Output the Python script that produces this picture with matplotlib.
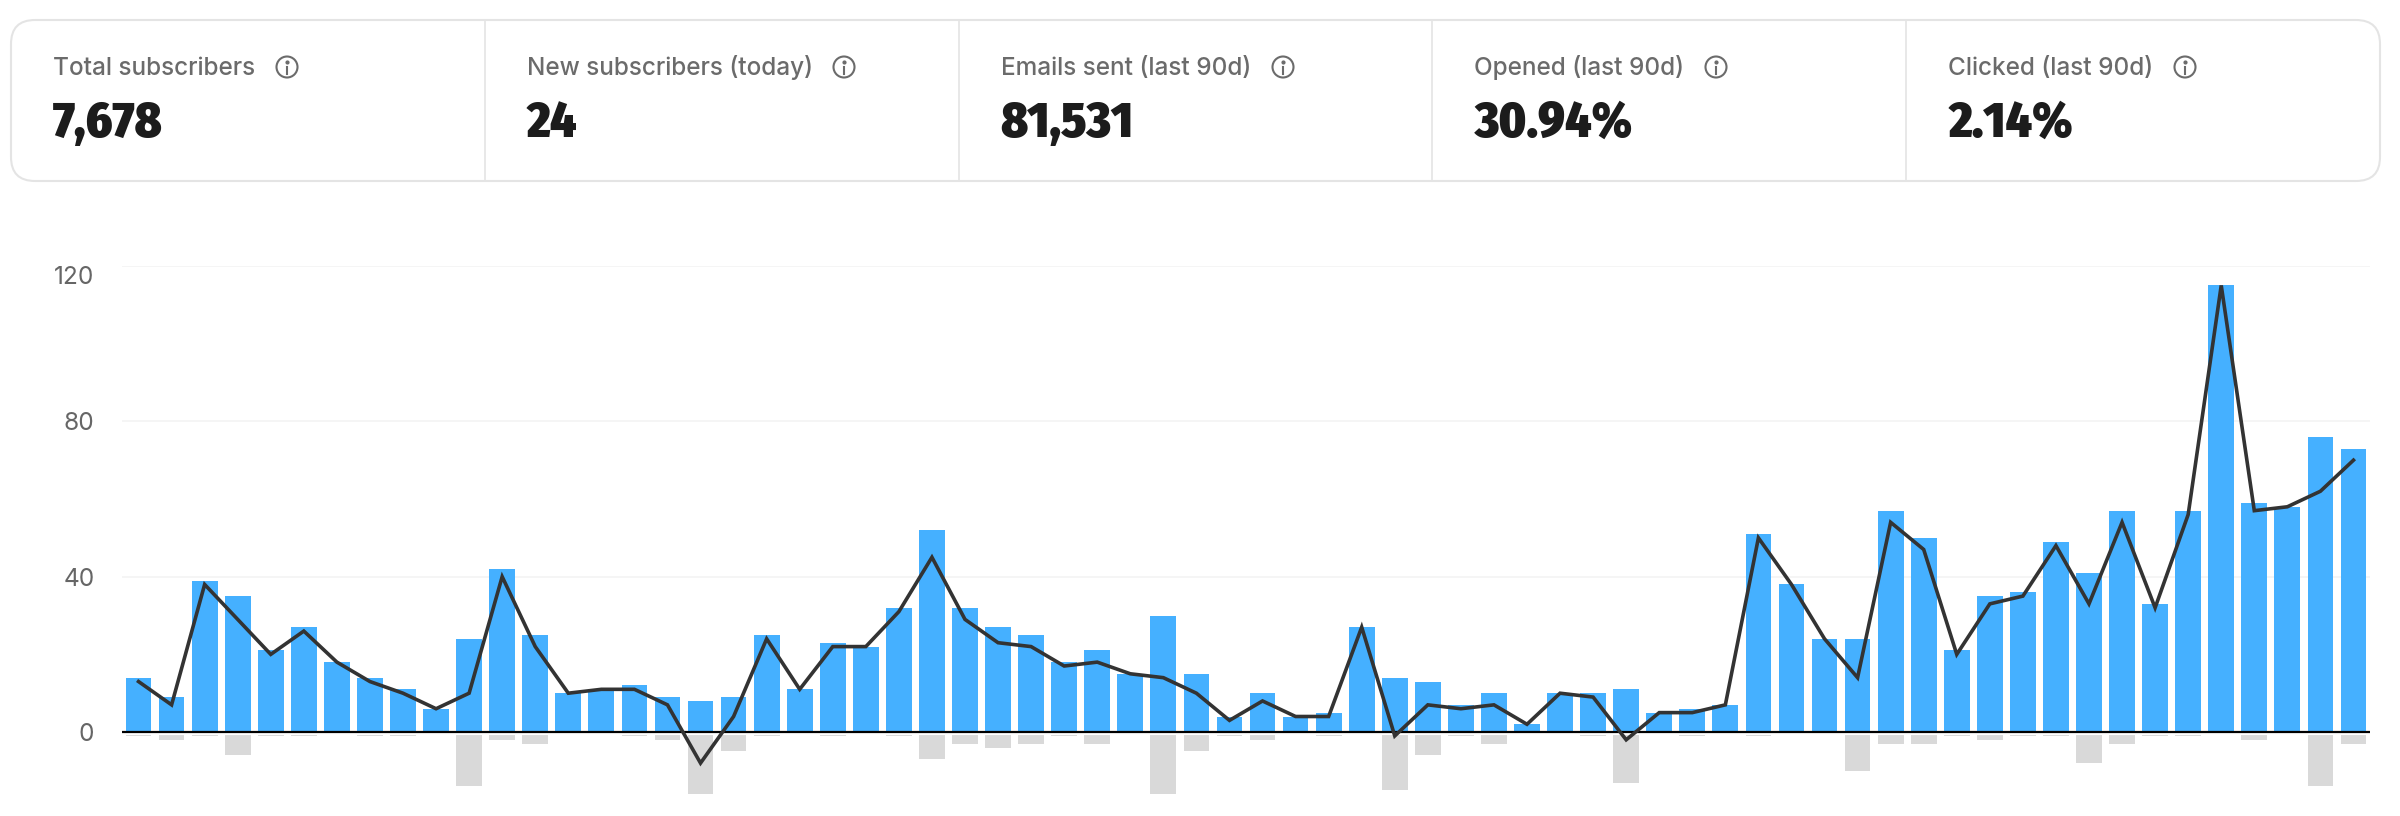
import matplotlib
matplotlib.use('Agg')
import matplotlib.pyplot as plt
from matplotlib.patches import FancyBboxPatch, Circle

# header cards
card_labels = ["Total subscribers", "New subscribers (today)", "Emails sent (last 90d)",
               "Opened (last 90d)", "Clicked (last 90d)"]
card_values = ["7,678", "24", "81,531", "30.94%", "2.14%"]
icon_x = [287, 844, 1283, 1716, 2185]

# daily subscribers
gained = [14, 9, 39, 35, 21, 27, 18, 14, 11, 6,
          24, 42, 25, 10, 11, 12, 9, 8, 9, 25,
          11, 23, 22, 32, 52, 32, 27, 25, 18, 21,
          15, 30, 15, 4, 10, 4, 5, 27, 14, 13,
          7, 10, 2, 10, 10, 11, 5, 6, 7, 51,
          38, 24, 24, 57, 50, 21, 35, 36, 49, 41,
          57, 33, 57, 115, 59, 58, 76, 73]
lost = [-1, -2, -1, -6, -1, -1, 0, -1, -1, 0,
        -14, -2, -3, 0, 0, -1, -2, -16, -5, -1,
        0, -1, 0, -1, -7, -3, -4, -3, -1, -3,
        0, -16, -5, -1, -2, 0, -1, 0, -15, -6,
        -1, -3, 0, 0, -1, -13, 0, -1, 0, -1,
        0, 0, -10, -3, -3, -1, -2, -1, -1, -8,
        -3, -1, -1, 0, -2, 0, -14, -3]
net = [13, 7, 38, 29, 20, 26, 18, 13, 10, 6,
       10, 40, 22, 10, 11, 11, 7, -8, 4, 24,
       11, 22, 22, 31, 45, 29, 23, 22, 17, 18,
       15, 14, 10, 3, 8, 4, 4, 27, -1, 7,
       6, 7, 2, 10, 9, -2, 5, 5, 7, 50,
       38, 24, 14, 54, 47, 20, 33, 35, 48, 33,
       54, 32, 56, 115, 57, 58, 62, 70]
y_ticks = [0, 40, 80, 120]

W, H = 2400, 816
fig = plt.figure(figsize=(W / 100, H / 100), dpi=100)

# page layer in pixel coordinates, for the cards
page = fig.add_axes([0, 0, 1, 1])
page.set_xlim(0, W)
page.set_ylim(H, 0)
page.axis('off')

card_left, card_right, card_top, card_bottom = 11, 2380, 20, 181
card_w = (card_right - card_left) / len(card_labels)
page.add_patch(FancyBboxPatch((card_left, card_top), card_right - card_left, card_bottom - card_top,
                              boxstyle="round,pad=0,rounding_size=24", fc='white', ec='#E4E4E4', lw=1.5))
for i, (label, value) in enumerate(zip(card_labels, card_values)):
    x0 = card_left + i * card_w
    if i > 0:
        page.plot([x0, x0], [card_top, card_bottom], color='#E4E4E4', lw=1.2)
    page.text(x0 + 42, 75, label, family=['Inter', 'DejaVu Sans'], weight='medium', fontsize=17.5,
              color='#6B6B6B', va='baseline', ha='left')
    page.text(x0 + 42, 137, value, family=['Fira Sans Condensed', 'Liberation Sans'], weight='black',
              fontsize=36, color='#1C1C1C', va='baseline', ha='left')
    # info icon
    cx = icon_x[i]
    page.add_patch(Circle((cx, 67), 10.5, fc='none', ec='#6B6B6B', lw=1.5))
    page.plot([cx, cx], [66.5, 73.5], color='#6B6B6B', lw=1.5)
    page.plot([cx], [62], 'o', color='#6B6B6B', ms=2)

# chart layer
ax = fig.add_axes([122 / W, (H - 800) / H, (2370 - 122) / W, (800 - 266) / H])
ax.patch.set_alpha(0)
x = list(range(len(gained)))
ax.bar(x, gained, width=0.78, color='#45B0FF', zorder=2)
ax.bar(x, lost, width=0.78, color='#D9D9D9', zorder=2)
ax.axhline(-0.3, color='white', lw=2.2, zorder=3)
ax.axhline(0, color='black', lw=1.6, zorder=4)
ax.plot(x, net, color='#333333', lw=2.6, solid_joinstyle='miter', zorder=5)

ax.set_xlim(-0.5, 67.5)
ax.set_ylim(-17.5, 120)
ax.set_yticks(y_ticks)
ax.set_xticks([])
ax.tick_params(axis='y', length=0, pad=19.8, labelsize=17.6, labelcolor='#666666')
for lab in ax.get_yticklabels():
    lab.set_fontfamily(['Inter', 'DejaVu Sans'])
# top label sits under its grid line, not centred on it
ax.get_yticklabels()[-1].set_va('top')
for s in ax.spines.values():
    s.set_visible(False)
ax.grid(axis='y', color='#F5F5F5', lw=1.4, zorder=0)
ax.set_axisbelow(True)

fig.savefig('out.png', dpi=100)
